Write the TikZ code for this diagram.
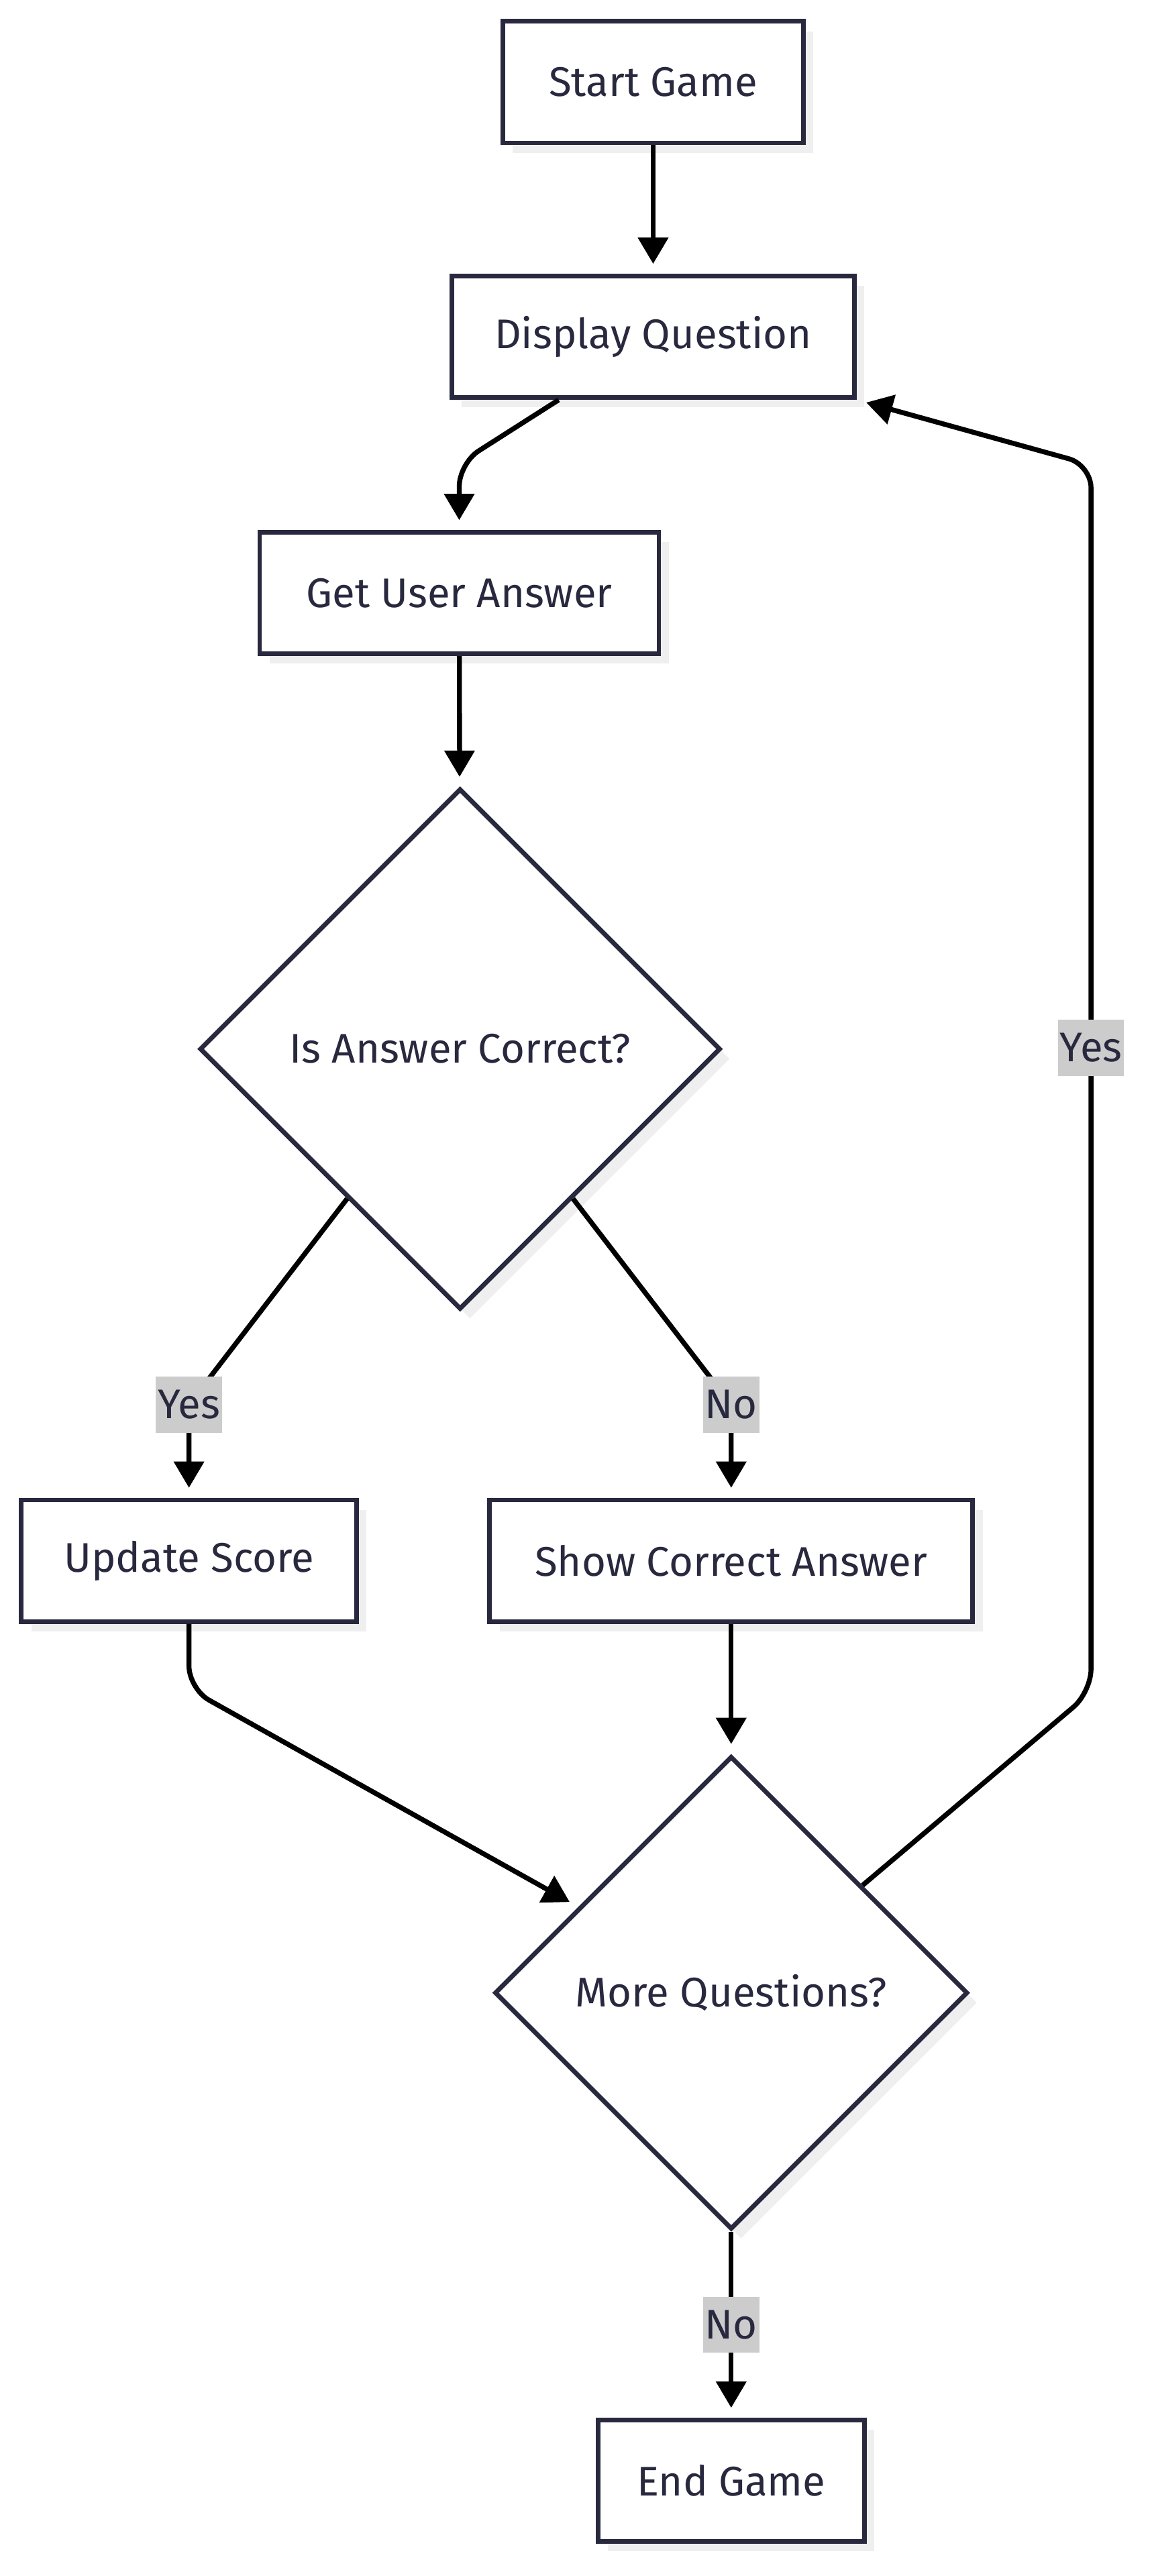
\documentclass[tikz,border=0pt]{standalone}
\usepackage{fontspec}
\setmainfont{Fira Sans}
\usetikzlibrary{arrows.meta,shadows,shapes.geometric,calc}
\definecolor{ink}{HTML}{28283E}
\definecolor{shade}{HTML}{EFEFEF}
\definecolor{lblbg}{HTML}{CCCCCC}
\begin{document}
\begin{tikzpicture}[x=0.5pt,y=-0.5pt,
  txt/.style={font=\fontsize{12.6}{15}\selectfont, text=ink},
  box/.style={txt, draw=ink, line width=1.4pt, fill=white, minimum height=37pt, inner sep=0pt,
    drop shadow={shadow xshift=3pt, shadow yshift=-3pt, fill=shade, opacity=1}},
  dia/.style={box, shape=diamond, aspect=1},
  conn/.style={draw=black, line width=1.5pt, -{Triangle[length=8pt,width=9pt]}, rounded corners=7pt, shorten >=3pt},
  lbl/.style={txt, sharp corners, fill=lblbg, inner xsep=0.6pt, inner ysep=0pt, minimum height=17pt}]
\useasboundingbox (0,0) rectangle (701,1568);
\node[box, minimum width=91.5pt] (sg) at (397.5,50) {Start Game};
\node[box, minimum width=122.5pt] (dq) at (397.5,205) {Display Question};
\node[box, minimum width=121.5pt] (gua) at (279.5,361) {Get User Answer};
\node[dia, minimum width=158.5pt, minimum height=158.5pt] (d1) at (280,638.5) {Is Answer Correct?};
\node[box, minimum width=102pt] (us) at (115,950) {Update Score};
\node[box, minimum width=147pt] (sca) at (445,950) {Show Correct Answer};
\node[dia, minimum width=144pt, minimum height=144pt] (d2) at (445,1213) {More Questions?};
\node[box, minimum width=81pt] (eg) at (445,1510) {End Game};
\coordinate (k1) at (279.5,282);
\coordinate (k2) at (115,855);
\coordinate (k3) at (445,855);
\coordinate (k4) at (115,1028);
\coordinate (k5) at (664,1030);
\coordinate (k6) at (664,283);
\draw[conn] (sg) -- (dq);
\draw[conn] ([xshift=-28.75pt]dq.south) -- (k1) -- (gua.north);
\draw[conn] (gua) -- (d1);
\draw[conn] ($(d1.west)!0.57!(d1.south)$) -- (k2) node[lbl] {Yes} -- (us.north);
\draw[conn] ($(d1.east)!0.57!(d1.south)$) -- (k3) node[lbl] {No} -- (sca.north);
\draw[conn] (us.south) -- (k4) -- ($(d2.west)!0.36!(d2.north)$);
\draw[conn] (sca) -- (d2);
\draw[conn] ($(d2.north)!0.55!(d2.east)$) -- (k5) -- node[lbl, pos=0.525] {Yes} (k6) -- (dq.south east);
\draw[conn] (d2.south) -- node[lbl] {No} (eg.north);
\end{tikzpicture}
\end{document}
